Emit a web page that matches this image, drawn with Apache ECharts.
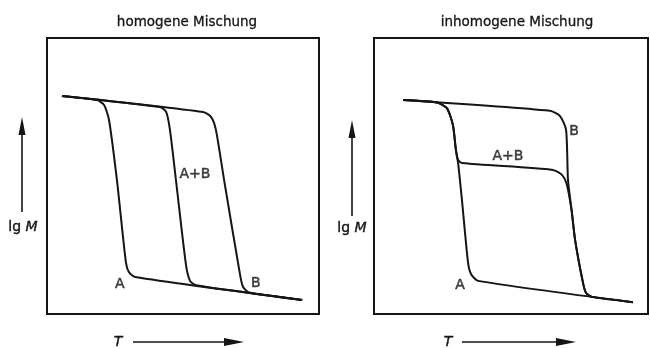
<!DOCTYPE html>
<html><head><meta charset="utf-8">
<script src="https://cdn.jsdelivr.net/npm/echarts@6/dist/echarts.min.js"></script>
<style>html,body{margin:0;padding:0;background:#fff}#c{width:650px;height:348px}</style>
</head><body><div id="c"></div>
<script>
// Panel titles
const titles = ['homogene Mischung', 'inhomogene Mischung'];

// Homogeneous blend: relative temperature T vs. relative lg M
const homA  = [[5.5,79],[18.4,77.5],[21,75.7],[22.8,70.3],[25.7,48.6],[29,18.8],[30.1,15.2],[32.4,13.4],[93.8,5.1]];
const homAB = [[5.5,79],[41.5,75],[43.8,73.2],[45.2,66.7],[47.4,48.6],[51.1,17.8],[52.6,12],[54.8,10.4],[93.8,5.1]];
const homB  = [[5.5,79],[57.4,73.2],[60.3,71.4],[62.1,66.7],[65.1,48.6],[71,14.1],[72.1,9.8],[74.3,7.8],[93.8,5.1]];
const homLabels = [['A',26.8,10.9],['A+B',54.4,50.7],['B',76.8,11.2]];

// Inhomogeneous blend
const inhA  = [[10.6,77.5],[23,76.6],[26.6,74.6],[28.8,68.5],[29.9,59.4],[30.7,54.7],[32.1,41.3],[34.3,18.8],[35.4,14.5],[38,12],[94.5,4.3]];
const inhAB = [[10.6,77.5],[23,76.6],[26.6,74.6],[28.8,68.5],[29.9,59.4],[30.7,55.8],[32.1,54.7],[65.3,52.2],[68.6,50.4],[70.3,47.2],[72.1,37.7],[73.4,26.8],[76.3,11.2],[77.4,7.6],[79.6,6.2],[94.5,4.3]];
const inhB  = [[10.6,77.5],[64.2,73.6],[67.9,71.7],[70.1,66.7],[70.8,48.6],[72.1,37.7],[73.4,26.8],[76.3,11.2],[77.4,7.6],[79.6,6.2],[94.5,4.3]];
const inhLabels = [['A+B',48.9,57.2],['A',31.4,10.5],['B',73,66.3]];

const ink = '#151515';
const font = 'DejaVu Sans';

function curve(data, idx) {
  return {
    type: 'line', data, xAxisIndex: idx, yAxisIndex: idx,
    showSymbol: false, smooth: 0.22, silent: true,
    lineStyle: { color: ink, width: 2 }
  };
}
function labels(list, idx) {
  return {
    type: 'scatter', xAxisIndex: idx, yAxisIndex: idx, symbolSize: 0, silent: true,
    itemStyle: { color: ink },
    data: list.map(l => ({ name: l[0], value: [l[1], l[2]] })),
    label: { show: true, position: 'inside', formatter: p => p.name,
             color: ink, fontSize: 14, fontFamily: font,
             textBorderColor: ink, textBorderWidth: 0.5 }
  };
}
function yArrow(x, top, bottom) {
  return [
    { type: 'line', shape: { x1: x, y1: top + 14, x2: x, y2: bottom }, style: { stroke: ink, lineWidth: 1.6 } },
    { type: 'polygon', shape: { points: [[x, top], [x - 3.5, top + 18], [x + 3.5, top + 18]] }, style: { fill: ink } }
  ];
}
function xArrow(x1, x2, y) {
  return [
    { type: 'line', shape: { x1: x1, y1: y, x2: x2 - 14, y2: y }, style: { stroke: ink, lineWidth: 1.6 } },
    { type: 'polygon', shape: { points: [[x2, y], [x2 - 20, y - 4], [x2 - 20, y + 4]] }, style: { fill: ink } }
  ];
}
function lgM(cx, cy) {
  return { type: 'text', x: cx, y: cy, style: {
    text: 'lg {i|M}', align: 'center', verticalAlign: 'middle', fill: ink,
    stroke: ink, lineWidth: 0.4,
    font: '14px "DejaVu Sans"', rich: { i: { fontStyle: 'italic', fontSize: 14, fontFamily: font, fill: ink } } } };
}
function tLabel(cx, cy) {
  return { type: 'text', x: cx, y: cy, style: { text: 'T', align: 'center', verticalAlign: 'middle',
    fill: ink, stroke: ink, lineWidth: 0.4, font: 'italic 14px "DejaVu Sans"' } };
}

const chart = echarts.init(document.getElementById('c'), null, { renderer: 'canvas' });
chart.setOption({
  animation: false,
  backgroundColor: '#fff',
  title: [
    { text: titles[0], left: 182, top: 10, textAlign: 'center',
      textStyle: { fontSize: 13.5, fontWeight: 'normal', color: ink, fontFamily: font,
                   textBorderColor: ink, textBorderWidth: 0.3 } },
    { text: titles[1], left: 512, top: 10, textAlign: 'center',
      textStyle: { fontSize: 13.5, fontWeight: 'normal', color: ink, fontFamily: font,
                   textBorderColor: ink, textBorderWidth: 0.3 } }
  ],
  grid: [
    { left: 47, top: 38, width: 272, height: 276, show: true, borderColor: ink, borderWidth: 2, backgroundColor: 'transparent' },
    { left: 374, top: 38, width: 274, height: 276, show: true, borderColor: ink, borderWidth: 2, backgroundColor: 'transparent' }
  ],
  xAxis: [
    { type: 'value', gridIndex: 0, min: 0, max: 100, show: false },
    { type: 'value', gridIndex: 1, min: 0, max: 100, show: false }
  ],
  yAxis: [
    { type: 'value', gridIndex: 0, min: 0, max: 100, show: false },
    { type: 'value', gridIndex: 1, min: 0, max: 100, show: false }
  ],
  series: [
    curve(homA, 0), curve(homAB, 0), curve(homB, 0), labels(homLabels, 0),
    curve(inhA, 1), curve(inhAB, 1), curve(inhB, 1), labels(inhLabels, 1)
  ],
  graphic: [].concat(
    yArrow(22, 117, 212), yArrow(352, 120, 216),
    xArrow(133, 244, 342), xArrow(462, 576, 342),
    [lgM(23, 227), lgM(352, 228), tLabel(118, 342), tLabel(448, 342)]
  )
});
</script>
</body></html>
